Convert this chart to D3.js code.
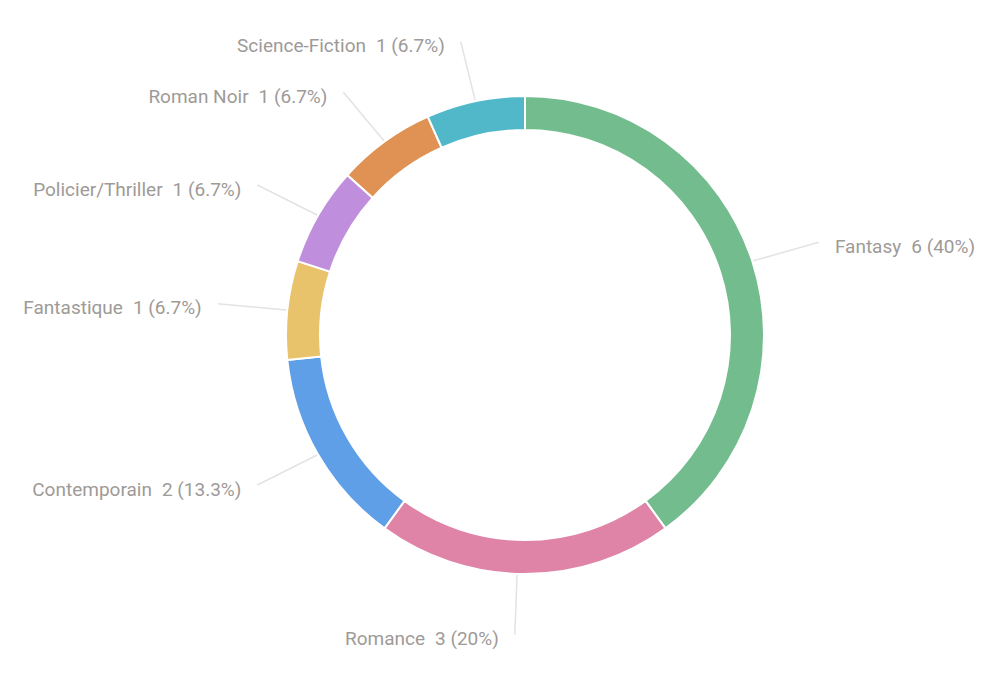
<!DOCTYPE html>
<html>
<head>
<meta charset="utf-8">
<script src="https://cdn.jsdelivr.net/npm/d3@7"></script>
<style>
  body { margin: 0; background: #fff; }
  svg text { font-family: Roboto, "Noto Sans", sans-serif; }
</style>
</head>
<body>
<svg id="chart"></svg>
<script>
// Data
const genres = ["Fantasy", "Romance", "Contemporain", "Fantastique", "Policier/Thriller", "Roman Noir", "Science-Fiction"];
const counts = [6, 3, 2, 1, 1, 1, 1];
const percents = ["40%", "20%", "13.3%", "6.7%", "6.7%", "6.7%", "6.7%"];
const colors = ["#72bc8e", "#df83a7", "#5f9fe8", "#e9c36c", "#bf8edc", "#df9254", "#51b8ca"];

// Layout
const width = 999;
const height = 675;
const cx = 525, cy = 335;
const outerR = 239, innerR = 205;
// leader lines end on a slightly flattened ring
const lineRx = 309, lineRy = 300;
const labelGap = 16;

const svg = d3.select("#chart")
  .attr("width", width)
  .attr("height", height);

const g = svg.append("g").attr("transform", `translate(${cx},${cy})`);

const pie = d3.pie().sort(null).value(d => d.count);
const arcs = pie(genres.map((name, i) => ({ name, count: counts[i], pct: percents[i], color: colors[i] })));

const arc = d3.arc().innerRadius(innerR).outerRadius(outerR);

// slices
g.selectAll("path.slice")
  .data(arcs)
  .join("path")
    .attr("class", "slice")
    .attr("d", arc)
    .attr("fill", d => d.data.color)
    .attr("stroke", "#fff")
    .attr("stroke-width", 2);

// leader lines + labels
const midAngle = d => (d.startAngle + d.endAngle) / 2;
const isLeft = d => midAngle(d) >= Math.PI - 1e-6;
// bottom label leans a little to the left
const lineAngle = d => Math.abs(midAngle(d) - Math.PI) < 1e-6 ? midAngle(d) + 0.033 : midAngle(d);
const start = d => [(outerR + 1) * Math.sin(lineAngle(d)), -(outerR + 1) * Math.cos(lineAngle(d))];
const end = d => [lineRx * Math.sin(lineAngle(d)), -lineRy * Math.cos(lineAngle(d))];

g.selectAll("line.leader")
  .data(arcs)
  .join("line")
    .attr("class", "leader")
    .attr("x1", d => start(d)[0])
    .attr("y1", d => start(d)[1])
    .attr("x2", d => end(d)[0])
    .attr("y2", d => end(d)[1])
    .attr("stroke", "#e3e3e3")
    .attr("stroke-width", 1.5);

const label = g.selectAll("text.label")
  .data(arcs)
  .join("text")
    .attr("class", "label")
    .attr("x", d => end(d)[0] + (isLeft(d) ? -labelGap : labelGap))
    .attr("y", d => end(d)[1] + 4)
    .attr("dy", "0.35em")
    .attr("text-anchor", d => isLeft(d) ? "end" : "start")
    .attr("fill", "#9e9a97")
    .attr("font-size", 19);

label.append("tspan").text(d => d.data.name);
label.append("tspan").attr("dx", 10).text(d => `${d.data.count} (${d.data.pct})`);
</script>
</body>
</html>
